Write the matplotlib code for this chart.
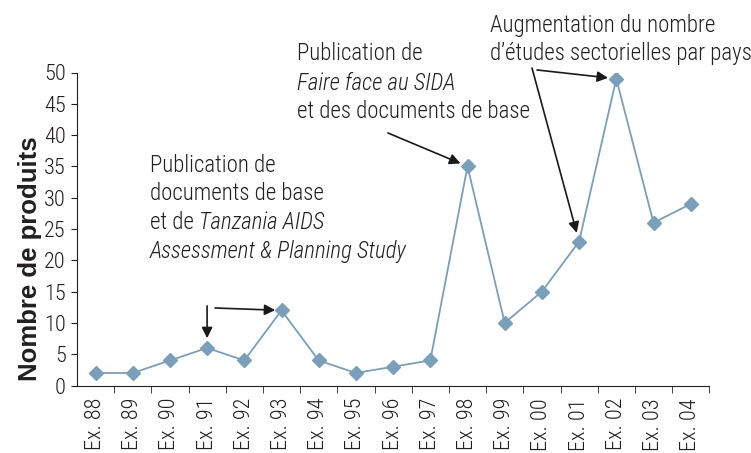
import matplotlib
matplotlib.use("Agg")
import matplotlib.pyplot as plt

plt.rcParams['font.family'] = ['Roboto Condensed', 'Liberation Sans', 'DejaVu Sans']
plt.rcParams['font.weight'] = 'light'

years = ["88", "89", "90", "91", "92", "93", "94", "95", "96", "97",
         "98", "99", "00", "01", "02", "03", "04"]
labels = ["Ex. " + y for y in years]
produits = [2, 2, 4, 6, 4, 12, 4, 2, 3, 4, 35, 10, 15, 23, 49, 26, 29]

line_color = "#7a9fbb"
text_color = "#231f20"

W, H = 751, 453
fig = plt.figure(figsize=(W / 100, H / 100), dpi=100)
ax = fig.add_axes([76.9 / W, 1 - 385.5 / H, (709.3 - 76.9) / W, (385.5 - 72.5) / H])

x = list(range(len(produits)))
ax.plot(x, produits, color=line_color, lw=1.3, marker='D', ms=7.5,
        mec=line_color, mfc=line_color)

ax.set_xlim(-0.5, len(produits) - 0.5)
ax.set_ylim(0, 50)
ax.set_yticks(range(0, 51, 5))
ax.set_xticks(x)
ax.set_xticklabels(labels, rotation=90)
ax.set_xticks([i + 0.5 for i in x], minor=True)
ax.tick_params(axis='x', which='major', length=0, pad=9, labelsize=16, colors=text_color)
ax.tick_params(axis='x', which='minor', length=5, direction='out', color=text_color)
ax.tick_params(axis='y', length=4, pad=4, labelsize=16, colors=text_color)
for s in ['top', 'right']:
    ax.spines[s].set_visible(False)
for s in ['left', 'bottom']:
    ax.spines[s].set_color(text_color)

fig.text(30 / W, 1 - 259 / H, "Nombre de produits", rotation=90, ha='center', va='center',
         fontsize=18.5, fontweight='bold', color=text_color,
         family=['Liberation Sans', 'DejaVu Sans'])


def write_lines(left, baselines, lines, size=16.5):
    for base, parts in zip(baselines, lines):
        prev = None
        for txt, italic in parts:
            style = 'italic' if italic else 'normal'
            if prev is None:
                prev = ax.annotate(txt, xy=(left, H - base), xycoords='figure pixels',
                                   ha='left', va='baseline', fontsize=size,
                                   style=style, color=text_color)
            else:
                prev = ax.annotate(txt, xy=(1, 0), xycoords=prev,
                                   ha='left', va='bottom', fontsize=size,
                                   style=style, color=text_color)


write_lines(150, [172, 200, 229, 258],
            [[("Publication de", False)],
             [("documents de base", False)],
             [("et de ", False), ("Tanzania AIDS", True)],
             [("Assessment & Planning Study", True)]])
write_lines(297, [60.5, 89.5, 118.3],
            [[("Publication de", False)],
             [("Faire face au SIDA", True)],
             [("et des documents de base", False)]])
write_lines(490, [31.7, 60],
            [[("Augmentation du nombre", False)],
             [("d’études sectorielles par pays", False)]])

# arrows: (index, offset x px, offset y px, shrink at tip)
arrows = [(3, 0, 42, 7), (5, -66.5, 2.4, 4.5), (10, -79.5, 33.4, 5.5),
          (14, -79.3, 8.8, 6), (13, -47.1, 173.5, 6.5)]
for i, dx, dy, sb in arrows:
    ax.annotate("", xy=(i, produits[i]), xytext=(dx, dy), textcoords='offset pixels',
                arrowprops=dict(arrowstyle='-|>', color='#1a1a1a', lw=1.2,
                                shrinkA=0, shrinkB=sb, mutation_scale=16))

fig.savefig("out.png", dpi=100)
